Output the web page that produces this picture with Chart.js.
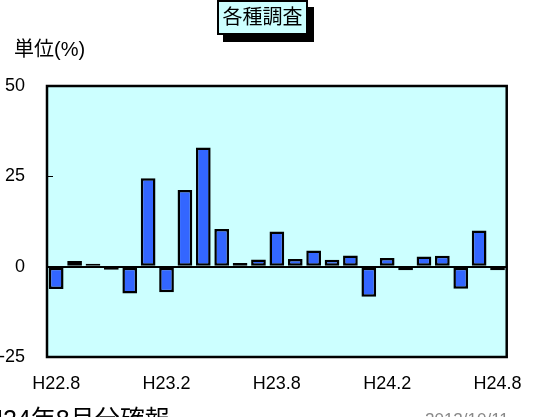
<!DOCTYPE html>
<html>
<head>
<meta charset="utf-8">
<script src="https://cdn.jsdelivr.net/npm/chart.js@4/dist/chart.umd.min.js"></script>
<style>
  body { margin: 0; background: #fff; }
  #wrap { position: relative; width: 538px; height: 417px; overflow: hidden; font-family: "Liberation Sans", Arial, "Noto Sans CJK JP", sans-serif; }
  #title { position: absolute; left: 217px; top: 0; width: 87px; height: 31px; background: #ccffff; border: 2px solid #000; box-shadow: 6px 7px 0 #000; font-size: 20px; line-height: 31px; text-align: center; }
  #unit { position: absolute; left: 14px; top: 33px; font-size: 20px; }
  #note { position: absolute; left: -15px; top: 399px; font-size: 25px; white-space: nowrap; }
  #date { position: absolute; left: 425px; top: 410px; font-size: 17px; color: #888; white-space: nowrap; }
</style>
</head>
<body>
<div id="wrap">
  <canvas id="chart" width="538" height="417"></canvas>
  <div id="title">各種調査</div>
  <div id="unit">単位(%)</div>
  <div id="note">H24年8月分確報</div>
  <div id="date">2012/10/11</div>
</div>
<script>
// months H22.8 .. H24.8
const months = [
  'H22.8', 'H22.9', 'H22.10', 'H22.11', 'H22.12',
  'H23.1', 'H23.2', 'H23.3', 'H23.4', 'H23.5', 'H23.6', 'H23.7',
  'H23.8', 'H23.9', 'H23.10', 'H23.11', 'H23.12',
  'H24.1', 'H24.2', 'H24.3', 'H24.4', 'H24.5', 'H24.6', 'H24.7', 'H24.8'
];
const values = [
  -6.2, 1.6, 0.2, -0.3, -7.4,
  24.5, -7.1, 21.2, 33.0, 10.4, 1.0, 2.0,
  9.7, 2.1, 4.5, 1.9, 3.1,
  -8.3, 2.4, -1.0, 2.8, 3.0, -6.1, 10.0, -1.0
];
const tickLabels = ['H22.8', 'H23.2', 'H23.8', 'H24.2', 'H24.8'];
const yTicks = [-25, 0, 25, 50];

const font = { family: '"Liberation Sans", Arial, sans-serif', size: 18 };

// plot background, frame and the small inner tick marks
const plotFrame = {
  id: 'plotFrame',
  beforeDraw(chart) {
    const { ctx, chartArea: a } = chart;
    ctx.save();
    ctx.fillStyle = '#ccffff';
    ctx.fillRect(a.left, a.top, a.right - a.left, a.bottom - a.top);
    ctx.restore();
  },
  afterDraw(chart) {
    const { ctx, chartArea: a } = chart;
    const y = chart.scales.y;
    ctx.save();
    ctx.strokeStyle = '#000';
    ctx.lineWidth = 2.5;
    ctx.strokeRect(a.left, a.top, a.right - a.left, a.bottom - a.top);
    ctx.lineWidth = 1;
    yTicks.forEach(v => {
      const py = Math.round(y.getPixelForValue(v)) + 0.5;
      ctx.beginPath();
      ctx.moveTo(a.left, py);
      ctx.lineTo(a.left + 6, py);
      ctx.stroke();
    });
    ctx.restore();
  }
};

new Chart(document.getElementById('chart'), {
  type: 'bar',
  data: {
    labels: months,
    datasets: [{
      data: values,
      backgroundColor: '#3366ff',
      borderColor: '#000',
      borderWidth: 2.5,
      borderSkipped: false,
      minBarLength: 3,
      categoryPercentage: 1,
      barPercentage: 0.8
    }]
  },
  options: {
    responsive: false,
    animation: false,
    devicePixelRatio: 1,
    layout: { padding: { top: 86, right: 23, left: 0, bottom: 0 } },
    plugins: {
      legend: { display: false },
      tooltip: { enabled: false }
    },
    scales: {
      x: {
        grid: { display: false, drawTicks: false },
        border: { display: false },
        ticks: {
          color: '#000',
          font: font,
          autoSkip: false,
          maxRotation: 0,
          padding: 16,
          callback: (v, i) => tickLabels.includes(months[i]) ? months[i] : ''
        },
        afterFit: s => { s.height = 60; }
      },
      y: {
        min: -25,
        max: 50,
        grid: {
          drawTicks: false,
          lineWidth: 2,
          color: c => (c.tick && c.tick.value === 0) ? '#000' : 'rgba(0,0,0,0)'
        },
        border: { display: false },
        ticks: {
          stepSize: 25,
          color: '#000',
          font: font,
          padding: 22
        },
        afterFit: s => { s.width = 47; }
      }
    }
  },
  plugins: [plotFrame]
});
</script>
</body>
</html>
